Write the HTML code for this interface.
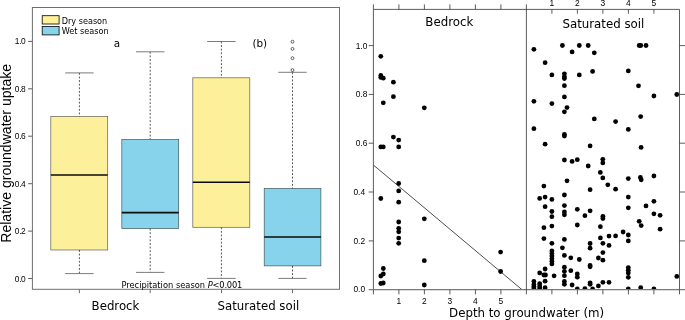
<!DOCTYPE html>
<html lang="en">
<head>
<meta charset="utf-8">
<title>Relative groundwater uptake</title>
<style>
html,body{margin:0;padding:0;background:#fff;}
body{width:685px;height:320px;overflow:hidden;}
svg{display:block;}
.dj{font-family:"DejaVu Sans","Liberation Sans",sans-serif;fill:#000;}
.ar{font-family:"Liberation Sans","DejaVu Sans",sans-serif;fill:#000;}
</style>
</head>
<body>
<svg width="685" height="320" viewBox="0 0 685 320">
<rect x="0" y="0" width="685" height="320" fill="#ffffff"/>

<g id="boxplot">
<line x1="79.4" y1="72.9" x2="79.4" y2="116.6" stroke="#2a2a2a" stroke-width="0.8" stroke-dasharray="1.9 1.7"/>
<line x1="79.4" y1="250.0" x2="79.4" y2="273.6" stroke="#2a2a2a" stroke-width="0.8" stroke-dasharray="1.9 1.7"/>
<line x1="65.17500000000001" y1="72.9" x2="93.625" y2="72.9" stroke="#5a5a5a" stroke-width="0.8" />
<line x1="65.17500000000001" y1="273.6" x2="93.625" y2="273.6" stroke="#5a5a5a" stroke-width="0.8" />
<rect x="50.8" y="116.6" width="56.9" height="133.4" fill="#fcf09b" stroke="#000" stroke-opacity="0.62" stroke-width="0.7"/>
<line x1="50.8" y1="175.0" x2="107.7" y2="175.0" stroke="#0a0a0a" stroke-width="1.6" />
<line x1="150.2" y1="51.8" x2="150.2" y2="139.4" stroke="#2a2a2a" stroke-width="0.8" stroke-dasharray="1.9 1.7"/>
<line x1="150.2" y1="228.6" x2="150.2" y2="272.4" stroke="#2a2a2a" stroke-width="0.8" stroke-dasharray="1.9 1.7"/>
<line x1="135.975" y1="51.8" x2="164.42499999999998" y2="51.8" stroke="#5a5a5a" stroke-width="0.8" />
<line x1="135.975" y1="272.4" x2="164.42499999999998" y2="272.4" stroke="#5a5a5a" stroke-width="0.8" />
<rect x="121.8" y="139.4" width="56.9" height="89.2" fill="#87d3ec" stroke="#000" stroke-opacity="0.62" stroke-width="0.7"/>
<line x1="121.8" y1="212.6" x2="178.7" y2="212.6" stroke="#0a0a0a" stroke-width="1.6" />
<line x1="221.4" y1="41.5" x2="221.4" y2="77.8" stroke="#2a2a2a" stroke-width="0.8" stroke-dasharray="1.9 1.7"/>
<line x1="221.4" y1="227.3" x2="221.4" y2="278.4" stroke="#2a2a2a" stroke-width="0.8" stroke-dasharray="1.9 1.7"/>
<line x1="207.15" y1="41.5" x2="235.65" y2="41.5" stroke="#5a5a5a" stroke-width="0.8" />
<line x1="207.15" y1="278.4" x2="235.65" y2="278.4" stroke="#5a5a5a" stroke-width="0.8" />
<rect x="192.8" y="77.8" width="57.0" height="149.5" fill="#fcf09b" stroke="#000" stroke-opacity="0.62" stroke-width="0.7"/>
<line x1="192.8" y1="182.3" x2="249.8" y2="182.3" stroke="#0a0a0a" stroke-width="1.6" />
<line x1="292.5" y1="72.3" x2="292.5" y2="188.4" stroke="#2a2a2a" stroke-width="0.8" stroke-dasharray="1.9 1.7"/>
<line x1="292.5" y1="265.9" x2="292.5" y2="278.4" stroke="#2a2a2a" stroke-width="0.8" stroke-dasharray="1.9 1.7"/>
<line x1="278.325" y1="72.3" x2="306.675" y2="72.3" stroke="#5a5a5a" stroke-width="0.8" />
<line x1="278.325" y1="278.4" x2="306.675" y2="278.4" stroke="#5a5a5a" stroke-width="0.8" />
<rect x="264.2" y="188.4" width="56.7" height="77.5" fill="#87d3ec" stroke="#000" stroke-opacity="0.62" stroke-width="0.7"/>
<line x1="264.2" y1="237.0" x2="320.9" y2="237.0" stroke="#0a0a0a" stroke-width="1.6" />
<circle cx="292.5" cy="41.7" r="1.45" fill="none" stroke="#222" stroke-width="0.7"/>
<circle cx="292.5" cy="48.9" r="1.45" fill="none" stroke="#222" stroke-width="0.7"/>
<circle cx="292.5" cy="58.2" r="1.45" fill="none" stroke="#222" stroke-width="0.7"/>
<circle cx="292.5" cy="70.1" r="1.45" fill="none" stroke="#222" stroke-width="0.7"/>
<rect x="32.4" y="7.5" width="307.1" height="281.8" fill="none" stroke="#6e6e6e" stroke-width="1"/>
<line x1="28.1" y1="278.5" x2="32.4" y2="278.5" stroke="#5e5e5e" stroke-width="1" />
<text class="ar" x="14.85 19.2 20.98" y="281.5" font-size="8.4">0.0</text>
<line x1="28.1" y1="231.1" x2="32.4" y2="231.1" stroke="#5e5e5e" stroke-width="1" />
<text class="ar" x="14.85 19.2 20.98" y="234.1" font-size="8.4">0.2</text>
<line x1="28.1" y1="183.7" x2="32.4" y2="183.7" stroke="#5e5e5e" stroke-width="1" />
<text class="ar" x="14.85 19.2 20.98" y="186.7" font-size="8.4">0.4</text>
<line x1="28.1" y1="136.2" x2="32.4" y2="136.2" stroke="#5e5e5e" stroke-width="1" />
<text class="ar" x="14.85 19.2 20.98" y="139.2" font-size="8.4">0.6</text>
<line x1="28.1" y1="88.8" x2="32.4" y2="88.8" stroke="#5e5e5e" stroke-width="1" />
<text class="ar" x="14.85 19.2 20.98" y="91.8" font-size="8.4">0.8</text>
<line x1="28.1" y1="41.4" x2="32.4" y2="41.4" stroke="#5e5e5e" stroke-width="1" />
<text class="ar" x="14.85 19.2 20.98" y="44.4" font-size="8.4">1.0</text>
<line x1="79.4" y1="289.3" x2="79.4" y2="293.2" stroke="#6e6e6e" stroke-width="1" />
<line x1="150.2" y1="289.3" x2="150.2" y2="293.2" stroke="#6e6e6e" stroke-width="1" />
<line x1="221.5" y1="289.3" x2="221.5" y2="293.2" stroke="#6e6e6e" stroke-width="1" />
<line x1="292.5" y1="289.3" x2="292.5" y2="293.2" stroke="#6e6e6e" stroke-width="1" />
<rect x="42.2" y="15.7" width="16.9" height="8.3" fill="#fcf09b" stroke="#000" stroke-width="0.8"/>
<rect x="42.2" y="26.5" width="16.9" height="8.4" fill="#87d3ec" stroke="#000" stroke-width="0.8"/>
<text class="dj" x="61.7" y="23.7" font-size="8.15">Dry season</text>
<text class="dj" x="61.7" y="34.2" font-size="8.15">Wet season</text>
<text class="dj" x="116.95" y="47" font-size="10.4" text-anchor="middle">a</text>
<text class="dj" x="259.8" y="47" font-size="10.4" text-anchor="middle">(b)</text>
<text class="dj" x="121.4" y="287.6" font-size="8.3">Precipitation season <tspan letter-spacing="-0.19"><tspan font-style="italic">P</tspan>&lt;0.001</tspan></text>
<text class="dj" x="115.5" y="309.8" font-size="11.75" text-anchor="middle">Bedrock</text>
<text class="dj" x="258.4" y="309.8" font-size="11.75" text-anchor="middle">Saturated soil</text>
<text class="ar" transform="translate(10.7,153.3) rotate(-90)" font-size="14.05" text-anchor="middle">Relative groundwater uptake</text>
</g>
<g id="scatter">
<line x1="373.4" y1="165.0" x2="522.0" y2="289.7" stroke="#000" stroke-width="0.7" />
<circle cx="380.8" cy="56.3" r="2.4" fill="#000"/>
<circle cx="380.8" cy="75.4" r="2.4" fill="#000"/>
<circle cx="380.8" cy="77.4" r="2.4" fill="#000"/>
<circle cx="380.8" cy="146.9" r="2.4" fill="#000"/>
<circle cx="380.8" cy="198.5" r="2.4" fill="#000"/>
<circle cx="380.8" cy="276" r="2.4" fill="#000"/>
<circle cx="380.8" cy="283.5" r="2.4" fill="#000"/>
<circle cx="383.3" cy="78.2" r="2.4" fill="#000"/>
<circle cx="383.3" cy="102.8" r="2.4" fill="#000"/>
<circle cx="383.3" cy="146.9" r="2.4" fill="#000"/>
<circle cx="383.3" cy="268.5" r="2.4" fill="#000"/>
<circle cx="383.3" cy="274" r="2.4" fill="#000"/>
<circle cx="383.3" cy="283" r="2.4" fill="#000"/>
<circle cx="393.4" cy="82.2" r="2.4" fill="#000"/>
<circle cx="393.4" cy="96.7" r="2.4" fill="#000"/>
<circle cx="393.4" cy="137.1" r="2.4" fill="#000"/>
<circle cx="398.7" cy="140.1" r="2.4" fill="#000"/>
<circle cx="398.7" cy="146.9" r="2.4" fill="#000"/>
<circle cx="398.7" cy="183.5" r="2.4" fill="#000"/>
<circle cx="398.7" cy="190.9" r="2.4" fill="#000"/>
<circle cx="398.7" cy="202.2" r="2.4" fill="#000"/>
<circle cx="398.7" cy="222" r="2.4" fill="#000"/>
<circle cx="398.7" cy="228.3" r="2.4" fill="#000"/>
<circle cx="398.7" cy="231.8" r="2.4" fill="#000"/>
<circle cx="398.7" cy="238.1" r="2.4" fill="#000"/>
<circle cx="398.7" cy="243.3" r="2.4" fill="#000"/>
<circle cx="424.3" cy="107.8" r="2.4" fill="#000"/>
<circle cx="424.3" cy="218.8" r="2.4" fill="#000"/>
<circle cx="424.3" cy="260.7" r="2.4" fill="#000"/>
<circle cx="424.3" cy="285" r="2.4" fill="#000"/>
<circle cx="500.6" cy="252.1" r="2.4" fill="#000"/>
<circle cx="500.6" cy="271.5" r="2.4" fill="#000"/>
<clipPath id="satclip"><rect x="526.4" y="9.4" width="153.1" height="280.3"/></clipPath>
<g clip-path="url(#satclip)">
<circle cx="533.9" cy="49.3" r="2.4" fill="#000"/>
<circle cx="562.4" cy="45.5" r="2.4" fill="#000"/>
<circle cx="579.3" cy="45.5" r="2.4" fill="#000"/>
<circle cx="588.2" cy="45.5" r="2.4" fill="#000"/>
<circle cx="572.1" cy="51.9" r="2.4" fill="#000"/>
<circle cx="594.3" cy="52.8" r="2.4" fill="#000"/>
<circle cx="545.1" cy="62.7" r="2.4" fill="#000"/>
<circle cx="592.6" cy="71.4" r="2.4" fill="#000"/>
<circle cx="551.9" cy="74.9" r="2.4" fill="#000"/>
<circle cx="564.4" cy="73.8" r="2.4" fill="#000"/>
<circle cx="579.3" cy="74.9" r="2.4" fill="#000"/>
<circle cx="639.2" cy="45.5" r="2.4" fill="#000"/>
<circle cx="640.8" cy="45.5" r="2.4" fill="#000"/>
<circle cx="646" cy="45.5" r="2.4" fill="#000"/>
<circle cx="628.3" cy="70.9" r="2.4" fill="#000"/>
<circle cx="564.4" cy="76.8" r="2.4" fill="#000"/>
<circle cx="564.4" cy="78.5" r="2.4" fill="#000"/>
<circle cx="564.4" cy="85.7" r="2.4" fill="#000"/>
<circle cx="564.4" cy="96.9" r="2.4" fill="#000"/>
<circle cx="533.9" cy="101.3" r="2.4" fill="#000"/>
<circle cx="551.9" cy="103.6" r="2.4" fill="#000"/>
<circle cx="567" cy="107.6" r="2.4" fill="#000"/>
<circle cx="638.5" cy="85.8" r="2.4" fill="#000"/>
<circle cx="653.9" cy="96" r="2.4" fill="#000"/>
<circle cx="676.8" cy="94.5" r="2.4" fill="#000"/>
<circle cx="564.4" cy="111.8" r="2.4" fill="#000"/>
<circle cx="594.3" cy="118.9" r="2.4" fill="#000"/>
<circle cx="533.9" cy="128.7" r="2.4" fill="#000"/>
<circle cx="564.4" cy="134.5" r="2.4" fill="#000"/>
<circle cx="564.4" cy="136" r="2.4" fill="#000"/>
<circle cx="545.1" cy="144.2" r="2.4" fill="#000"/>
<circle cx="615.6" cy="121.6" r="2.4" fill="#000"/>
<circle cx="640.7" cy="116.6" r="2.4" fill="#000"/>
<circle cx="628.3" cy="129.4" r="2.4" fill="#000"/>
<circle cx="590.1" cy="145.9" r="2.4" fill="#000"/>
<circle cx="564.4" cy="160" r="2.4" fill="#000"/>
<circle cx="572.1" cy="161.4" r="2.4" fill="#000"/>
<circle cx="577.3" cy="159.7" r="2.4" fill="#000"/>
<circle cx="588.2" cy="166" r="2.4" fill="#000"/>
<circle cx="602.8" cy="159.3" r="2.4" fill="#000"/>
<circle cx="602.8" cy="162.9" r="2.4" fill="#000"/>
<circle cx="600.3" cy="172.4" r="2.4" fill="#000"/>
<circle cx="602.8" cy="177.9" r="2.4" fill="#000"/>
<circle cx="641.1" cy="147.4" r="2.4" fill="#000"/>
<circle cx="628.3" cy="178.6" r="2.4" fill="#000"/>
<circle cx="640.4" cy="177.5" r="2.4" fill="#000"/>
<circle cx="641.2" cy="179.8" r="2.4" fill="#000"/>
<circle cx="653.9" cy="176" r="2.4" fill="#000"/>
<circle cx="567" cy="180.8" r="2.4" fill="#000"/>
<circle cx="543.9" cy="186.1" r="2.4" fill="#000"/>
<circle cx="590.1" cy="189.7" r="2.4" fill="#000"/>
<circle cx="564.4" cy="195" r="2.4" fill="#000"/>
<circle cx="539.7" cy="198.4" r="2.4" fill="#000"/>
<circle cx="545.1" cy="197.1" r="2.4" fill="#000"/>
<circle cx="551.9" cy="199.4" r="2.4" fill="#000"/>
<circle cx="545.1" cy="206.7" r="2.4" fill="#000"/>
<circle cx="564.4" cy="205.6" r="2.4" fill="#000"/>
<circle cx="577.3" cy="209.3" r="2.4" fill="#000"/>
<circle cx="551.9" cy="211.5" r="2.4" fill="#000"/>
<circle cx="564.4" cy="212" r="2.4" fill="#000"/>
<circle cx="590.1" cy="210.8" r="2.4" fill="#000"/>
<circle cx="607.8" cy="184.8" r="2.4" fill="#000"/>
<circle cx="615.6" cy="189.2" r="2.4" fill="#000"/>
<circle cx="628.3" cy="197.1" r="2.4" fill="#000"/>
<circle cx="653.9" cy="201.3" r="2.4" fill="#000"/>
<circle cx="646" cy="205.9" r="2.4" fill="#000"/>
<circle cx="628.3" cy="207.8" r="2.4" fill="#000"/>
<circle cx="564.4" cy="214.8" r="2.4" fill="#000"/>
<circle cx="551.9" cy="216.7" r="2.4" fill="#000"/>
<circle cx="584.9" cy="215.7" r="2.4" fill="#000"/>
<circle cx="602.9" cy="216.3" r="2.4" fill="#000"/>
<circle cx="602.9" cy="218.6" r="2.4" fill="#000"/>
<circle cx="577.3" cy="225" r="2.4" fill="#000"/>
<circle cx="543.9" cy="227.7" r="2.4" fill="#000"/>
<circle cx="551.9" cy="226.1" r="2.4" fill="#000"/>
<circle cx="600.4" cy="226.7" r="2.4" fill="#000"/>
<circle cx="543.9" cy="238.6" r="2.4" fill="#000"/>
<circle cx="564.4" cy="239.4" r="2.4" fill="#000"/>
<circle cx="600.4" cy="237.9" r="2.4" fill="#000"/>
<circle cx="551.9" cy="243.3" r="2.4" fill="#000"/>
<circle cx="590.1" cy="243.5" r="2.4" fill="#000"/>
<circle cx="602.9" cy="243.3" r="2.4" fill="#000"/>
<circle cx="653.9" cy="213.8" r="2.4" fill="#000"/>
<circle cx="660.1" cy="215.3" r="2.4" fill="#000"/>
<circle cx="639.2" cy="221.3" r="2.4" fill="#000"/>
<circle cx="641.2" cy="225.6" r="2.4" fill="#000"/>
<circle cx="660.1" cy="229.2" r="2.4" fill="#000"/>
<circle cx="623.1" cy="232" r="2.4" fill="#000"/>
<circle cx="628.3" cy="235" r="2.4" fill="#000"/>
<circle cx="615.6" cy="235.9" r="2.4" fill="#000"/>
<circle cx="609" cy="236.1" r="2.4" fill="#000"/>
<circle cx="628.3" cy="240.9" r="2.4" fill="#000"/>
<circle cx="609" cy="245.4" r="2.4" fill="#000"/>
<circle cx="590.1" cy="248.2" r="2.4" fill="#000"/>
<circle cx="562.4" cy="247.8" r="2.4" fill="#000"/>
<circle cx="602.9" cy="252.6" r="2.4" fill="#000"/>
<circle cx="551.9" cy="251" r="2.4" fill="#000"/>
<circle cx="551.9" cy="253.6" r="2.4" fill="#000"/>
<circle cx="551.9" cy="256.1" r="2.4" fill="#000"/>
<circle cx="551.9" cy="258.8" r="2.4" fill="#000"/>
<circle cx="551.9" cy="261.3" r="2.4" fill="#000"/>
<circle cx="551.9" cy="263.9" r="2.4" fill="#000"/>
<circle cx="564.4" cy="255.4" r="2.4" fill="#000"/>
<circle cx="570.8" cy="257.8" r="2.4" fill="#000"/>
<circle cx="579.3" cy="259.5" r="2.4" fill="#000"/>
<circle cx="598.4" cy="258" r="2.4" fill="#000"/>
<circle cx="602.9" cy="260.2" r="2.4" fill="#000"/>
<circle cx="590.1" cy="265.5" r="2.4" fill="#000"/>
<circle cx="590.1" cy="266.8" r="2.4" fill="#000"/>
<circle cx="545.1" cy="269" r="2.4" fill="#000"/>
<circle cx="564.4" cy="267.2" r="2.4" fill="#000"/>
<circle cx="564.4" cy="271.3" r="2.4" fill="#000"/>
<circle cx="564.4" cy="275.7" r="2.4" fill="#000"/>
<circle cx="570.8" cy="270.7" r="2.4" fill="#000"/>
<circle cx="539.7" cy="272.9" r="2.4" fill="#000"/>
<circle cx="543.9" cy="275" r="2.4" fill="#000"/>
<circle cx="545.5" cy="275" r="2.4" fill="#000"/>
<circle cx="554.1" cy="275.8" r="2.4" fill="#000"/>
<circle cx="577.3" cy="273.9" r="2.4" fill="#000"/>
<circle cx="577.3" cy="277.2" r="2.4" fill="#000"/>
<circle cx="628.3" cy="267.6" r="2.4" fill="#000"/>
<circle cx="628.3" cy="270.2" r="2.4" fill="#000"/>
<circle cx="628.3" cy="273" r="2.4" fill="#000"/>
<circle cx="628.3" cy="277.3" r="2.4" fill="#000"/>
<circle cx="676.8" cy="276.4" r="2.4" fill="#000"/>
<circle cx="533.9" cy="281.5" r="2.4" fill="#000"/>
<circle cx="533.9" cy="284.6" r="2.4" fill="#000"/>
<circle cx="533.9" cy="286.5" r="2.4" fill="#000"/>
<circle cx="533.9" cy="288.1" r="2.4" fill="#000"/>
<circle cx="539.7" cy="283.6" r="2.4" fill="#000"/>
<circle cx="539.7" cy="285.9" r="2.4" fill="#000"/>
<circle cx="539.7" cy="288.1" r="2.4" fill="#000"/>
<circle cx="545.1" cy="281.2" r="2.4" fill="#000"/>
<circle cx="545.1" cy="287.7" r="2.4" fill="#000"/>
<circle cx="564.4" cy="281.5" r="2.4" fill="#000"/>
<circle cx="564.4" cy="284.3" r="2.4" fill="#000"/>
<circle cx="572.1" cy="285" r="2.4" fill="#000"/>
<circle cx="590.1" cy="282.8" r="2.4" fill="#000"/>
<circle cx="590.1" cy="284.3" r="2.4" fill="#000"/>
<circle cx="602.9" cy="282.3" r="2.4" fill="#000"/>
<circle cx="598.4" cy="285.9" r="2.4" fill="#000"/>
<circle cx="577.3" cy="289" r="2.4" fill="#000"/>
<circle cx="584.9" cy="288.6" r="2.4" fill="#000"/>
<circle cx="592.6" cy="289" r="2.4" fill="#000"/>
<circle cx="609" cy="282.3" r="2.4" fill="#000"/>
<circle cx="628.3" cy="289" r="2.4" fill="#000"/>
<circle cx="640.7" cy="287.7" r="2.4" fill="#000"/>
<circle cx="653.9" cy="289" r="2.4" fill="#000"/>
</g>
<line x1="373.4" y1="9.4" x2="679.5" y2="9.4" stroke="#404040" stroke-width="0.85" />
<line x1="373.4" y1="9.4" x2="373.4" y2="289.7" stroke="#404040" stroke-width="0.85" />
<line x1="679.5" y1="9.4" x2="679.5" y2="289.7" stroke="#404040" stroke-width="0.85" />
<line x1="373.4" y1="289.7" x2="679.5" y2="289.7" stroke="#7a7a7a" stroke-width="1.2" />
<line x1="526.4" y1="4.4" x2="526.4" y2="294.4" stroke="#404040" stroke-width="0.85" />
<line x1="373.4" y1="4.4" x2="373.4" y2="9.4" stroke="#404040" stroke-width="0.85" />
<line x1="373.4" y1="289.7" x2="373.4" y2="294.4" stroke="#404040" stroke-width="0.85" />
<line x1="679.5" y1="289.7" x2="679.5" y2="294.4" stroke="#404040" stroke-width="0.85" />
<line x1="398.9" y1="4.4" x2="398.9" y2="9.4" stroke="#404040" stroke-width="0.85" />
<line x1="398.9" y1="289.7" x2="398.9" y2="294.4" stroke="#404040" stroke-width="0.85" />
<text class="ar" x="398.9" y="303.5" font-size="8.4" text-anchor="middle">1</text>
<line x1="551.9" y1="9.4" x2="551.9" y2="13.7" stroke="#404040" stroke-width="0.85" />
<line x1="551.9" y1="289.7" x2="551.9" y2="294.4" stroke="#404040" stroke-width="0.85" />
<text class="ar" x="551.9" y="6.2" font-size="8.4" text-anchor="middle">1</text>
<line x1="424.4" y1="4.4" x2="424.4" y2="9.4" stroke="#404040" stroke-width="0.85" />
<line x1="424.4" y1="289.7" x2="424.4" y2="294.4" stroke="#404040" stroke-width="0.85" />
<text class="ar" x="424.4" y="303.5" font-size="8.4" text-anchor="middle">2</text>
<line x1="577.4" y1="9.4" x2="577.4" y2="13.7" stroke="#404040" stroke-width="0.85" />
<line x1="577.4" y1="289.7" x2="577.4" y2="294.4" stroke="#404040" stroke-width="0.85" />
<text class="ar" x="577.4" y="6.2" font-size="8.4" text-anchor="middle">2</text>
<line x1="449.9" y1="4.4" x2="449.9" y2="9.4" stroke="#404040" stroke-width="0.85" />
<line x1="449.9" y1="289.7" x2="449.9" y2="294.4" stroke="#404040" stroke-width="0.85" />
<text class="ar" x="449.9" y="303.5" font-size="8.4" text-anchor="middle">3</text>
<line x1="602.9" y1="9.4" x2="602.9" y2="13.7" stroke="#404040" stroke-width="0.85" />
<line x1="602.9" y1="289.7" x2="602.9" y2="294.4" stroke="#404040" stroke-width="0.85" />
<text class="ar" x="602.9" y="6.2" font-size="8.4" text-anchor="middle">3</text>
<line x1="475.4" y1="4.4" x2="475.4" y2="9.4" stroke="#404040" stroke-width="0.85" />
<line x1="475.4" y1="289.7" x2="475.4" y2="294.4" stroke="#404040" stroke-width="0.85" />
<text class="ar" x="475.4" y="303.5" font-size="8.4" text-anchor="middle">4</text>
<line x1="628.4" y1="9.4" x2="628.4" y2="13.7" stroke="#404040" stroke-width="0.85" />
<line x1="628.4" y1="289.7" x2="628.4" y2="294.4" stroke="#404040" stroke-width="0.85" />
<text class="ar" x="628.4" y="6.2" font-size="8.4" text-anchor="middle">4</text>
<line x1="500.9" y1="4.4" x2="500.9" y2="9.4" stroke="#404040" stroke-width="0.85" />
<line x1="500.9" y1="289.7" x2="500.9" y2="294.4" stroke="#404040" stroke-width="0.85" />
<text class="ar" x="500.9" y="303.5" font-size="8.4" text-anchor="middle">5</text>
<line x1="653.9" y1="9.4" x2="653.9" y2="13.7" stroke="#404040" stroke-width="0.85" />
<line x1="653.9" y1="289.7" x2="653.9" y2="294.4" stroke="#404040" stroke-width="0.85" />
<text class="ar" x="653.9" y="6.2" font-size="8.4" text-anchor="middle">5</text>
<line x1="368.7" y1="289.7" x2="373.4" y2="289.7" stroke="#404040" stroke-width="0.85" />
<line x1="679.5" y1="289.7" x2="685" y2="289.7" stroke="#404040" stroke-width="0.85" />
<text class="ar" x="365.1" y="291.6" font-size="8.4" text-anchor="end">0.0</text>
<line x1="368.7" y1="240.9" x2="373.4" y2="240.9" stroke="#404040" stroke-width="0.85" />
<line x1="679.5" y1="240.9" x2="685" y2="240.9" stroke="#404040" stroke-width="0.85" />
<text class="ar" x="365.1" y="243.9" font-size="8.4" text-anchor="end">0.2</text>
<line x1="368.7" y1="192.0" x2="373.4" y2="192.0" stroke="#404040" stroke-width="0.85" />
<line x1="679.5" y1="192.0" x2="685" y2="192.0" stroke="#404040" stroke-width="0.85" />
<text class="ar" x="365.1" y="195.0" font-size="8.4" text-anchor="end">0.4</text>
<line x1="368.7" y1="143.2" x2="373.4" y2="143.2" stroke="#404040" stroke-width="0.85" />
<line x1="679.5" y1="143.2" x2="685" y2="143.2" stroke="#404040" stroke-width="0.85" />
<text class="ar" x="367.3" y="146.2" font-size="8.4" text-anchor="end">0.6</text>
<line x1="368.7" y1="94.4" x2="373.4" y2="94.4" stroke="#404040" stroke-width="0.85" />
<line x1="679.5" y1="94.4" x2="685" y2="94.4" stroke="#404040" stroke-width="0.85" />
<text class="ar" x="367.3" y="97.4" font-size="8.4" text-anchor="end">0.8</text>
<line x1="368.7" y1="45.6" x2="373.4" y2="45.6" stroke="#404040" stroke-width="0.85" />
<line x1="679.5" y1="45.6" x2="685" y2="45.6" stroke="#404040" stroke-width="0.85" />
<text class="ar" x="367.3" y="48.6" font-size="8.4" text-anchor="end">1.0</text>
<text class="dj" x="449.3" y="26.2" font-size="11.8" text-anchor="middle">Bedrock</text>
<text class="dj" x="603.4" y="27.5" font-size="11.8" text-anchor="middle">Saturated soil</text>
<text class="dj" x="526.6" y="317.1" font-size="11.8" text-anchor="middle">Depth to groundwater (m)</text>
</g>
</svg>
</body>
</html>
